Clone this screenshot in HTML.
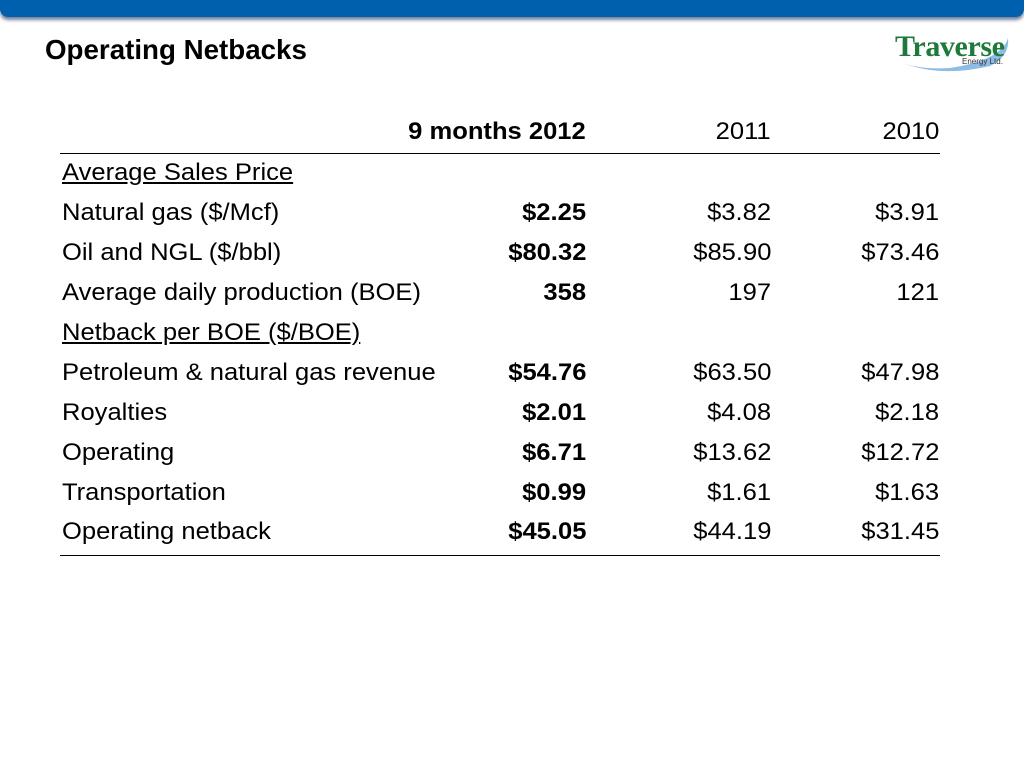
<!DOCTYPE html>
<html><head><meta charset="utf-8"><style>
body{margin:0;width:1024px;height:768px;position:relative;background:#fff;font-family:"Liberation Sans",Arial,sans-serif;overflow:hidden}
.bar{position:absolute;left:0;top:0;width:1024px;height:17px;background:#0060ae;border-radius:0 0 8px 8px;box-shadow:0 3px 3px rgba(0,30,80,.55)}
.title{position:absolute;left:45px;top:34px;font-size:28px;font-weight:bold;color:#000;transform:scaleX(.99);transform-origin:left}
.t{position:absolute;font-size:24px;color:#000;line-height:26px;white-space:nowrap;transform:scaleX(1.065);transform-origin:left}
.r{text-align:right;transform-origin:right}
.b{font-weight:bold}
.u{text-decoration:underline}
.line{position:absolute;left:60px;width:880px;height:1px;background:#000}
</style></head><body>
<div class="bar"></div>
<div class="title">Operating Netbacks</div>
<svg style="position:absolute;left:890px;top:26px" width="124" height="50">
<path d="M10 36 Q50 52 100 40 Q120 30 118 12 Q112 34 60 42 Q30 44 10 36Z" fill="#5da0d8" opacity=".7"/>
<text x="5" y="30" font-family="Liberation Serif,serif" font-size="30" font-weight="bold" fill="#1d7a3a" textLength="110">Traverse</text>
<text x="72" y="38" font-family="Liberation Sans,sans-serif" font-size="8" fill="#333">Energy Ltd.</text>
</svg>
<div class="line" style="top:153px"></div>
<div class="line" style="top:555px"></div>
<div id="tbl"></div>
<script>
const labels=["","Average Sales Price","Natural gas ($/Mcf)","Oil and NGL ($/bbl)","Average daily production (BOE)","Netback per BOE ($/BOE)","Petroleum & natural gas revenue","Royalties","Operating","Transportation","Operating netback"];
const col2012=["9 months 2012","","$2.25","$80.32","358","","$54.76","$2.01","$6.71","$0.99","$45.05"];
const col2011=["2011","","$3.82","$85.90","197","","$63.50","$4.08","$13.62","$1.61","$44.19"];
const col2010=["2010","","$3.91","$73.46","121","","$47.98","$2.18","$12.72","$1.63","$31.45"];
const tbl=document.getElementById('tbl');
const rowY=[119,160,200,240,280,320,360,400,440,480,519];
function add(txt,cls,style,name){if(!txt)return;const d=document.createElement('div');d.className='t '+cls;d.textContent=txt;d.setAttribute('style',style);


tbl.appendChild(d);}
labels.forEach((l,i)=>{
 add(l,(i==1||i==5)?'u':'',`left:62px;top:${rowY[i]}px`,'row-label');
 add(col2012[i],'r b',`right:${1024-586}px;top:${rowY[i]}px`,'value-2012');
 add(col2011[i],'r',`right:${1024-771}px;top:${rowY[i]}px`,'value-2011');
 add(col2010[i],'r',`right:${1024-939}px;top:${rowY[i]}px`,'value-2010');
});
</script>
</body></html>
